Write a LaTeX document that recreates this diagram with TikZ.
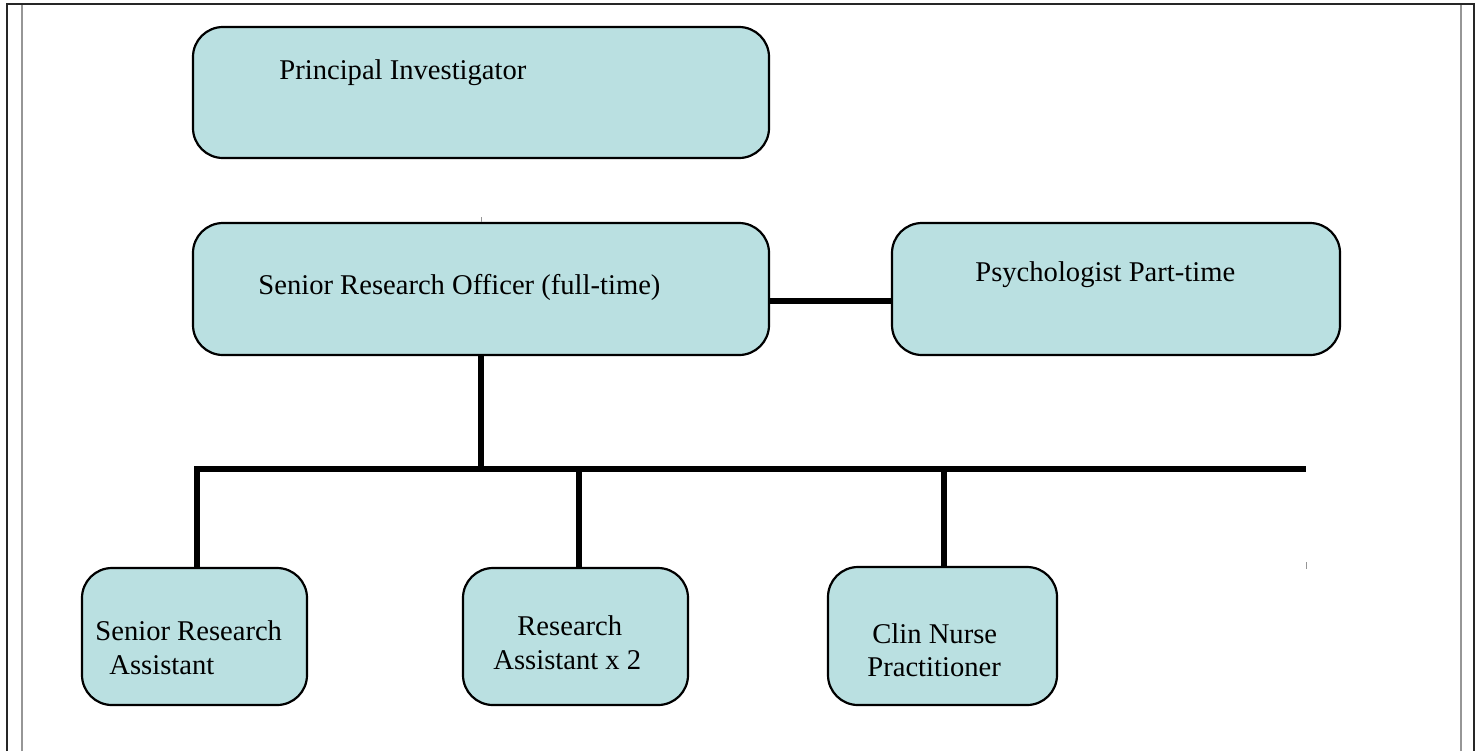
\documentclass[tikz,border=0pt]{standalone}
\usepackage{fontspec}
\setmainfont{Liberation Serif}
\definecolor{boxfill}{RGB}{186,224,225}
\definecolor{framegray}{RGB}{150,150,150}
\begin{document}
\begin{tikzpicture}[x=0.5pt,y=-0.5pt,
  orgbox/.style={draw=black, line width=1.1pt, fill=boxfill, rounded corners=15pt, rectangle, inner sep=0pt, outer sep=0pt},
  conn/.style={draw=black, line width=2.6pt, line cap=butt, line join=miter},
  lbl/.style={anchor=base west, inner sep=0pt, font=\fontsize{14.3}{17}\selectfont},
  tick/.style={draw=framegray, line width=0.5pt}]
\useasboundingbox (0,0) rectangle (1481,751);
\fill[white] (0,0) rectangle (1481,751);
% frame
\draw[framegray, line width=0.6pt] (22,751) -- (22,4);
\draw[framegray, line width=0.6pt] (1461,751) -- (1461,4);
\draw[black!85, line width=1.2pt] (7,751) -- (7,4) -- (1474,4) -- (1474,751);
% boxes
\node[orgbox, minimum width=288pt, minimum height=65.5pt] (pi) at (481,92.5) {};
\node[orgbox, minimum width=288pt, minimum height=66pt] (sro) at (481,289) {};
\node[orgbox, minimum width=224pt, minimum height=66pt] (psy) at (1116,289) {};
\node[orgbox, minimum width=112.5pt, minimum height=68.5pt] (sra) at (194.5,636.5) {};
\node[orgbox, minimum width=112.5pt, minimum height=68.5pt] (ra) at (575.5,636.5) {};
\node[orgbox, minimum width=114.5pt, minimum height=69pt] (cnp) at (942.5,636) {};
% labels
\node[lbl] (tpi) at (279,79) {Principal Investigator};
\node[lbl] (tsro) at (258,294) {Senior Research Officer (full-time)};
\node[lbl] (tpsy) at (975,281) {Psychologist Part-time};
\node[lbl] (tsra1) at (95,640) {Senior Research};
\node[lbl] (tsra2) at (109,674) {Assistant};
\node[lbl] (tra1) at (517,635) {Research};
\node[lbl] (tra2) at (493,669) {Assistant x 2};
\node[lbl] (tcnp1) at (872,643) {Clin Nurse};
\node[lbl] (tcnp2) at (867,676) {Practitioner};
% connectors
\coordinate (busR) at (1306,469);
\draw[conn] ([yshift=-6pt]sro.east) -- ([yshift=-6pt]psy.west);
\draw[conn] (sro.south) -- (sro.south |- busR);
\draw[conn] ([xshift=1.25pt]sra.north) -- ([xshift=1.25pt]sra.north |- busR) -- (busR);
\draw[conn] ([xshift=1.75pt]ra.north) -- ([xshift=1.75pt]ra.north |- busR);
\draw[conn] ([xshift=0.75pt]cnp.north) -- ([xshift=0.75pt]cnp.north |- busR);
% faint marks
\coordinate (m1) at (481,217);
\coordinate (m2) at (1306,562);
\draw[tick] (m1) -- ++(0,5);
\draw[tick] (m2) -- ++(0,7);
\end{tikzpicture}
\end{document}
